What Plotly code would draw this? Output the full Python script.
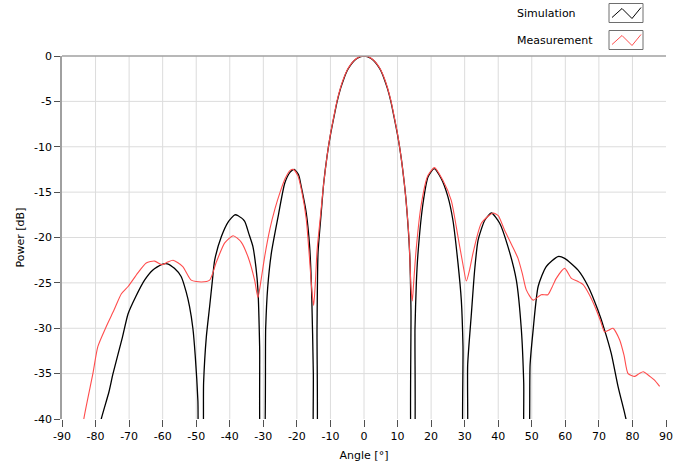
import plotly.graph_objects as go

# ---- data ----
sim_angle = [-80, -78.3, -76, -74.8, -72, -70.3, -68, -65.4, -63, -60.2, -58.6, -56.5, -54.5, -53, -52, -51, -50.3,
             -49.5, -49, -48.3, -47.8, -47, -46, -45.2, -44.5, -42.5, -40.5, -38.5, -37.5, -35.6, -34.3, -33.1,
             -32.2, -31.6, -31.1, -30.6, -30.0, -29.3, -28.7, -27.6, -25.6, -23.6, -22, -20.8, -19.5, -18.7,
             -17.2, -16.2, -15.6, -15.1, -14.8, -14.3, -14.0, -13.7, -12.8, -12, -11, -10, -9, -8, -7, -6, -5,
             -4, -3, -2, -1, 0, 1, 2, 3, 4, 5, 6, 7, 8, 9, 10, 11, 12, 12.6, 13.6, 14.0, 14.3, 14.8, 15.2, 15.6,
             16.1, 17.6, 19.1, 20.9, 23, 25, 26.5, 28, 29, 29.5, 29.8, 30.5, 30.9, 32, 33, 34, 36, 38, 40.4,
             42.9, 45.4, 46.9, 47.6, 48, 48.8, 49.5, 50.4, 51.9, 54.3, 57.8, 59.8, 63.8, 66.8, 69.7, 71.7,
             73.7, 75.7, 77.7, 79]
sim_db = [-43, -40, -37, -35, -31, -28.4, -26.5, -24.7, -23.6, -22.95, -22.9, -23.4, -24.3, -26, -27.6, -30, -33,
          -38, -45, -45, -36, -31, -27.6, -24.8, -22.5, -19.9, -18.3, -17.5, -17.6, -18.2, -19.6, -21,
          -23.3, -25.8, -32, -45, -45, -30, -25.5, -21.7, -17.7, -14.0, -12.8, -12.5, -13.1, -14.4,
          -17.3, -21, -26, -35, -45, -45, -30, -21.7, -17.5, -14, -11, -8.7, -6.8, -5, -3.6, -2.5, -1.6,
          -1.0, -0.55, -0.25, -0.06, 0, -0.06, -0.25, -0.55, -1.0, -1.6, -2.5, -3.6, -5, -6.8, -8.7, -11, -14,
          -16.2, -21.7, -28, -45, -45, -30, -25, -21.7, -16.2, -13.3, -12.4, -13.5, -15.5, -18.1, -22.8,
          -26.9, -32, -45, -45, -34, -28.4, -23.5, -20.3, -18.1, -17.3, -18.4, -21, -24.7, -30.2, -36, -45,
          -45, -34, -30.2, -25.4, -23.2, -22.1, -22.3, -23.6, -25.4, -28, -30.2, -32.8, -36.4, -39.4, -41.5]

meas_angle = [-84, -83.5, -80.8, -79.3, -76.8, -74.5, -72.3, -70.3, -67.4, -64.9, -62.4, -60.2, -58.5, -56.9,
              -54, -51.5, -48.5, -46, -44, -41.5, -39, -36.6, -34.6, -32.6, -31.6, -30.6, -29.6, -28, -26.5,
              -25, -23.5, -22, -21, -19.7, -18.5, -17.2, -16.3, -15.5, -15.0, -14.5, -14.0, -12.8, -12, -11,
              -10, -9, -8, -7, -6, -5, -4, -3, -2, -1, 0, 1, 2, 3, 4, 5, 6, 7, 8, 9, 10, 11, 12, 13.4, 14.0,
              14.4, 14.8, 15.5, 17, 19, 21, 23.5, 26, 28, 29.5, 30.5, 31.5, 32.5, 35, 38.5, 40, 41.9, 44, 45.9,
              47.2, 48.4, 50.4, 52.8, 54.8, 56, 57.3, 59.8, 61.8, 63.5, 65.3, 67, 68.8, 70.5, 71.7, 73, 74.2,
              76.2, 77.5, 78.7, 80.7, 82, 83.2, 85.2, 86.5, 88.1]
meas_db = [-42, -40, -35, -32, -29.8, -28, -26.2, -25.4, -23.9, -22.8, -22.6, -23, -22.7, -22.5,
           -23.2, -24.7, -24.9, -24.7, -22.7, -20.6, -19.8, -20.5, -22.1, -24.7, -26.6, -24.5, -22.1, -19, -16.8,
           -15, -13.5, -12.6, -12.5, -13.2, -15, -18, -22, -26, -27.5, -25, -21.5, -17, -14, -11,
           -8.6, -6.7, -4.9, -3.5, -2.4, -1.55, -0.95, -0.5, -0.22, -0.05, 0, -0.05, -0.22, -0.5, -0.95, -1.55,
           -2.4, -3.5, -4.9, -6.7, -8.6, -11, -14, -20, -25.5,
           -27, -25, -21.5, -16.5, -13.2, -12.3, -13.7, -15.9, -19.9, -23, -24.8, -23.5, -21.7, -18.4, -17.3,
           -17.6, -19.2, -20.8, -22.3,
           -24, -25.8, -26.9, -26.3, -26.3, -25.5, -24.5, -23.4, -24.5, -24.8, -25.2, -26.2, -27.6, -29.2,
           -30.4, -30.2, -30, -31.3, -33, -35, -35.3, -35.0, -34.8, -35.3, -35.7, -36.4]

x_ticks = list(range(-90, 91, 10))
y_ticks = list(range(-40, 1, 5))
series_names = ["Simulation", "Measurement"]
series_colors = ["#000000", "#ff4d4d"]

FONT = "DejaVu Sans"
GRID = "#dcdcdc"

fig = go.Figure()
fig.add_trace(go.Scatter(x=sim_angle, y=sim_db, mode="lines", name=series_names[0],
                         line=dict(color=series_colors[0], width=1.3, shape="spline", smoothing=0.6),
                         showlegend=False))
fig.add_trace(go.Scatter(x=meas_angle, y=meas_db, mode="lines", name=series_names[1],
                         line=dict(color=series_colors[1], width=1.1, shape="spline", smoothing=0.6),
                         showlegend=False))

W, H = 685, 468
L, R, T, B = 62, 19, 56, 49
pw, ph = W - L - R, H - T - B


def px_to_paper(xp, yp):
    return (xp - L) / pw, (H - B - yp) / ph


# interior grid lines (none on the plot edges, as in the reference)
for v in x_ticks[1:-1]:
    fig.add_shape(type="line", xref="x", yref="paper", x0=v, x1=v, y0=0, y1=1,
                  line=dict(color=GRID, width=1), layer="below")
for v in y_ticks[1:-1]:
    fig.add_shape(type="line", xref="paper", yref="y", x0=0, x1=1, y0=v, y1=v,
                  line=dict(color=GRID, width=1), layer="below")

# custom legend: text + boxed zig-zag swatch (right of text)
legend_rows_y = [13.5, 40.5]  # px from top
for name, color, yc in zip(series_names, series_colors, legend_rows_y):
    tx, ty = px_to_paper(515, yc)
    fig.add_annotation(x=tx, y=ty, xref="paper", yref="paper", text=name, showarrow=False,
                       xanchor="left", yanchor="middle", font=dict(family=FONT, size=11, color="#000"))
    x0, y0 = px_to_paper(609, yc - 10)
    x1, y1 = px_to_paper(643, yc + 9)
    fig.add_shape(type="rect", xref="paper", yref="paper", x0=x0, y0=y1, x1=x1, y1=y0,
                  line=dict(color="#6e6e6e", width=1), fillcolor="white")
    pts = [(612, yc + 4), (622, yc - 5), (632, yc + 5), (641, yc - 6)]
    path = ""
    for i, (a, b) in enumerate(pts):
        pa, pb = px_to_paper(a, b)
        path += ("M" if i == 0 else "L") + f"{pa},{pb} "
    fig.add_shape(type="path", xref="paper", yref="paper", path=path,
                  line=dict(color=color, width=1))

# top border line of the plot
fig.add_shape(type="line", xref="paper", yref="paper", x0=0, x1=1, y0=1, y1=1,
              line=dict(color="#a0a0a0", width=1.5))

fig.update_layout(
    width=W, height=H,
    margin=dict(l=L, r=R, t=T, b=B),
    paper_bgcolor="white", plot_bgcolor="white",
    font=dict(family=FONT, size=11, color="#000"),
    showlegend=False,
)
fig.update_xaxes(
    range=[-90, 90], tickvals=x_ticks, ticktext=[str(v) for v in x_ticks],
    showgrid=False, zeroline=False,
    showline=False, ticks="outside", ticklen=7, tickcolor="#505050", tickwidth=1,
    title=dict(text="Angle [°]", font=dict(family=FONT, size=11), standoff=9),
    tickfont=dict(family=FONT, size=11), automargin=False,
)
fig.update_yaxes(
    range=[-40, 0], tickvals=y_ticks, ticktext=[str(v) for v in y_ticks],
    showgrid=False, zeroline=False,
    showline=True, linecolor="#a0a0a0", linewidth=1.5,
    ticks="outside", ticklen=6, tickcolor="#505050", tickwidth=1,
    title=dict(text="Power [dB]", font=dict(family=FONT, size=11), standoff=7),
    tickfont=dict(family=FONT, size=11), automargin=False,
)

fig.write_html("out.html", config={"displayModeBar": False},
               post_script="document.body.style.margin='0px';")
